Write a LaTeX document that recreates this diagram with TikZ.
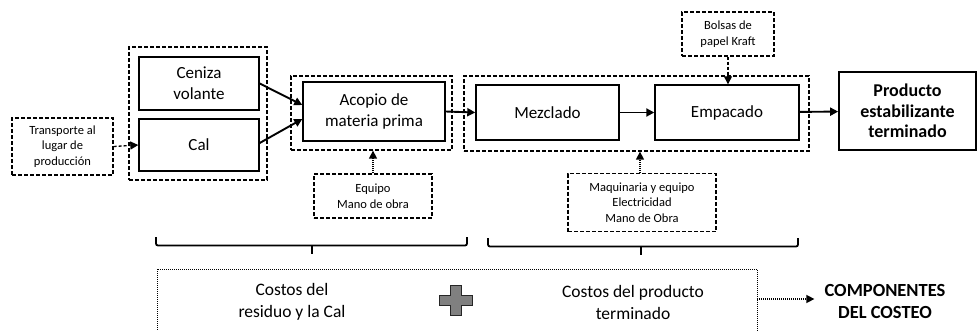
\documentclass[tikz,border=0pt]{standalone}
\usepackage{fontspec}
\setmainfont{Carlito}
\usetikzlibrary{arrows.meta,calc}
\begin{document}
\begin{tikzpicture}[x=1pt,y=-1pt,
  box/.style={draw, line width=1.4pt, inner sep=0pt, align=center, font=\fontsize{17}{21}\selectfont},
  dbox/.style={draw, dash pattern=on 4pt off 2pt, line width=1.2pt, inner sep=0pt, align=center, font=\fontsize{12.5}{15.5}\selectfont},
  grp/.style={draw, dash pattern=on 4pt off 2pt, line width=1.3pt, inner sep=0pt},
  arr/.style={line width=1.9pt, -{Triangle[length=8pt,width=8pt]}},
  darr/.style={line width=1.3pt, dash pattern=on 3pt off 2pt, -{Triangle[length=8pt,width=8pt]}},
  dotarr/.style={line width=1.4pt, dash pattern=on 1pt off 1pt, -{Triangle[length=8pt,width=8pt]}},
  bracepath/.style={line width=1.8pt, rounded corners=2pt},
  costtxt/.style={inner sep=0pt, align=center, font=\fontsize{17.5}{22}\selectfont},
]
\useasboundingbox (0,0) rectangle (978,330);
\clip (0,0) rectangle (978,330);

% groups
\node[grp, minimum width=138pt, minimum height=133pt] (g1) at (198,113.5) {};
\node[grp, minimum width=161pt, minimum height=74pt] (g2) at (371.5,113) {};
\node[grp, minimum width=345pt, minimum height=75pt] (g3) at (636.5,113.5) {};

% boxes
\node[dbox, minimum width=101pt, minimum height=57pt] (trans) at (62.5,146.5) {Transporte al\\lugar de\\producción};
\node[box, minimum width=120pt, minimum height=53pt] (ceniza) at (199,83.5) {Ceniza\\volante};
\node[box, minimum width=120pt, minimum height=52pt] (cal) at (199,145) {Cal};
\node[box, minimum width=142pt, minimum height=59pt] (acopio) at (374,111.5) {Acopio de\\materia prima};
\node[dbox, minimum width=118pt, minimum height=44pt] (equipo) at (373,196) {Equipo\\Mano de obra};
\node[box, minimum width=143pt, minimum height=55pt] (mezclado) at (547.5,112.5) {Mezclado};
\node[box, minimum width=144pt, minimum height=55pt] (empacado) at (727,112.5) {Empacado};
\node[dbox, minimum width=92pt, minimum height=44pt] (bolsas) at (728,34) {Bolsas de\\papel Kraft};
\node[box, line width=1.7pt, minimum width=137pt, minimum height=78pt, font=\bfseries\fontsize{18}{20.5}\selectfont] (producto) at (907.5,111) {Producto\\estabilizante\\terminado};
\node[dbox, minimum width=148pt, minimum height=58pt] (maq) at (642,202.5) {Maquinaria y equipo\\Electricidad\\Mano de Obra};

% connectors
\draw[darr] (trans.east) -- (cal.west);
\draw[arr] (ceniza.east) -- ([yshift=6.5pt]acopio.west);
\draw[arr] ([yshift=2pt]cal.east) -- ([yshift=-7.5pt]acopio.west);
\draw[arr] (acopio.east) -- (mezclado.west);
\draw[arr] (mezclado) -- (empacado);
\draw[arr] (empacado) -- (producto);
\draw[darr] (bolsas.south) -- (empacado.north -| bolsas.south);
\draw[dotarr] (equipo.north) -- (equipo.north |- g2.south);
\draw[dotarr] ([xshift=-2pt]maq.north) -- ([xshift=-2pt]maq.north |- g3.south);

% braces
\draw[bracepath] (156,237) -- (156,245.5) -- (467,245.5) -- (467,237);
\draw[line width=1.8pt] (312,245.5) -- (312,254);
\draw[bracepath] (488,238) -- (488,246.5) -- (798,246.5) -- (798,238);
\draw[line width=1.8pt] (641,246.5) -- (641,255);

% bottom
\node[draw, dash pattern=on 1pt off 1pt, line width=0.8pt, minimum width=600pt, minimum height=76pt] (costos) at (457,307) {};
\node[costtxt] (c1) at (292,302) {Costos del\\residuo y la Cal};
\node[costtxt] (c2) at (633,302) {Costos del producto\\terminado};
\node[inner sep=0pt, align=center, font=\bfseries\fontsize{18.5}{22}\selectfont] (comp) at (885,301) {COMPONENTES\\DEL COSTEO};
\draw[dotarr] (costos.east |- 0,299) -- ([xshift=-10pt]comp.west |- 0,299);

\coordinate (plus) at (456,300.5);
\draw[line width=1.4pt, fill=gray, draw=black!85, shift={(plus)}]
  (-5.5,-15) -- (5.5,-15) -- (5.5,-5) -- (16.5,-5) -- (16.5,5) -- (5.5,5) -- (5.5,15) -- (-5.5,15) -- (-5.5,5) -- (-16.5,5) -- (-16.5,-5) -- (-5.5,-5) -- cycle;
\end{tikzpicture}
\end{document}
